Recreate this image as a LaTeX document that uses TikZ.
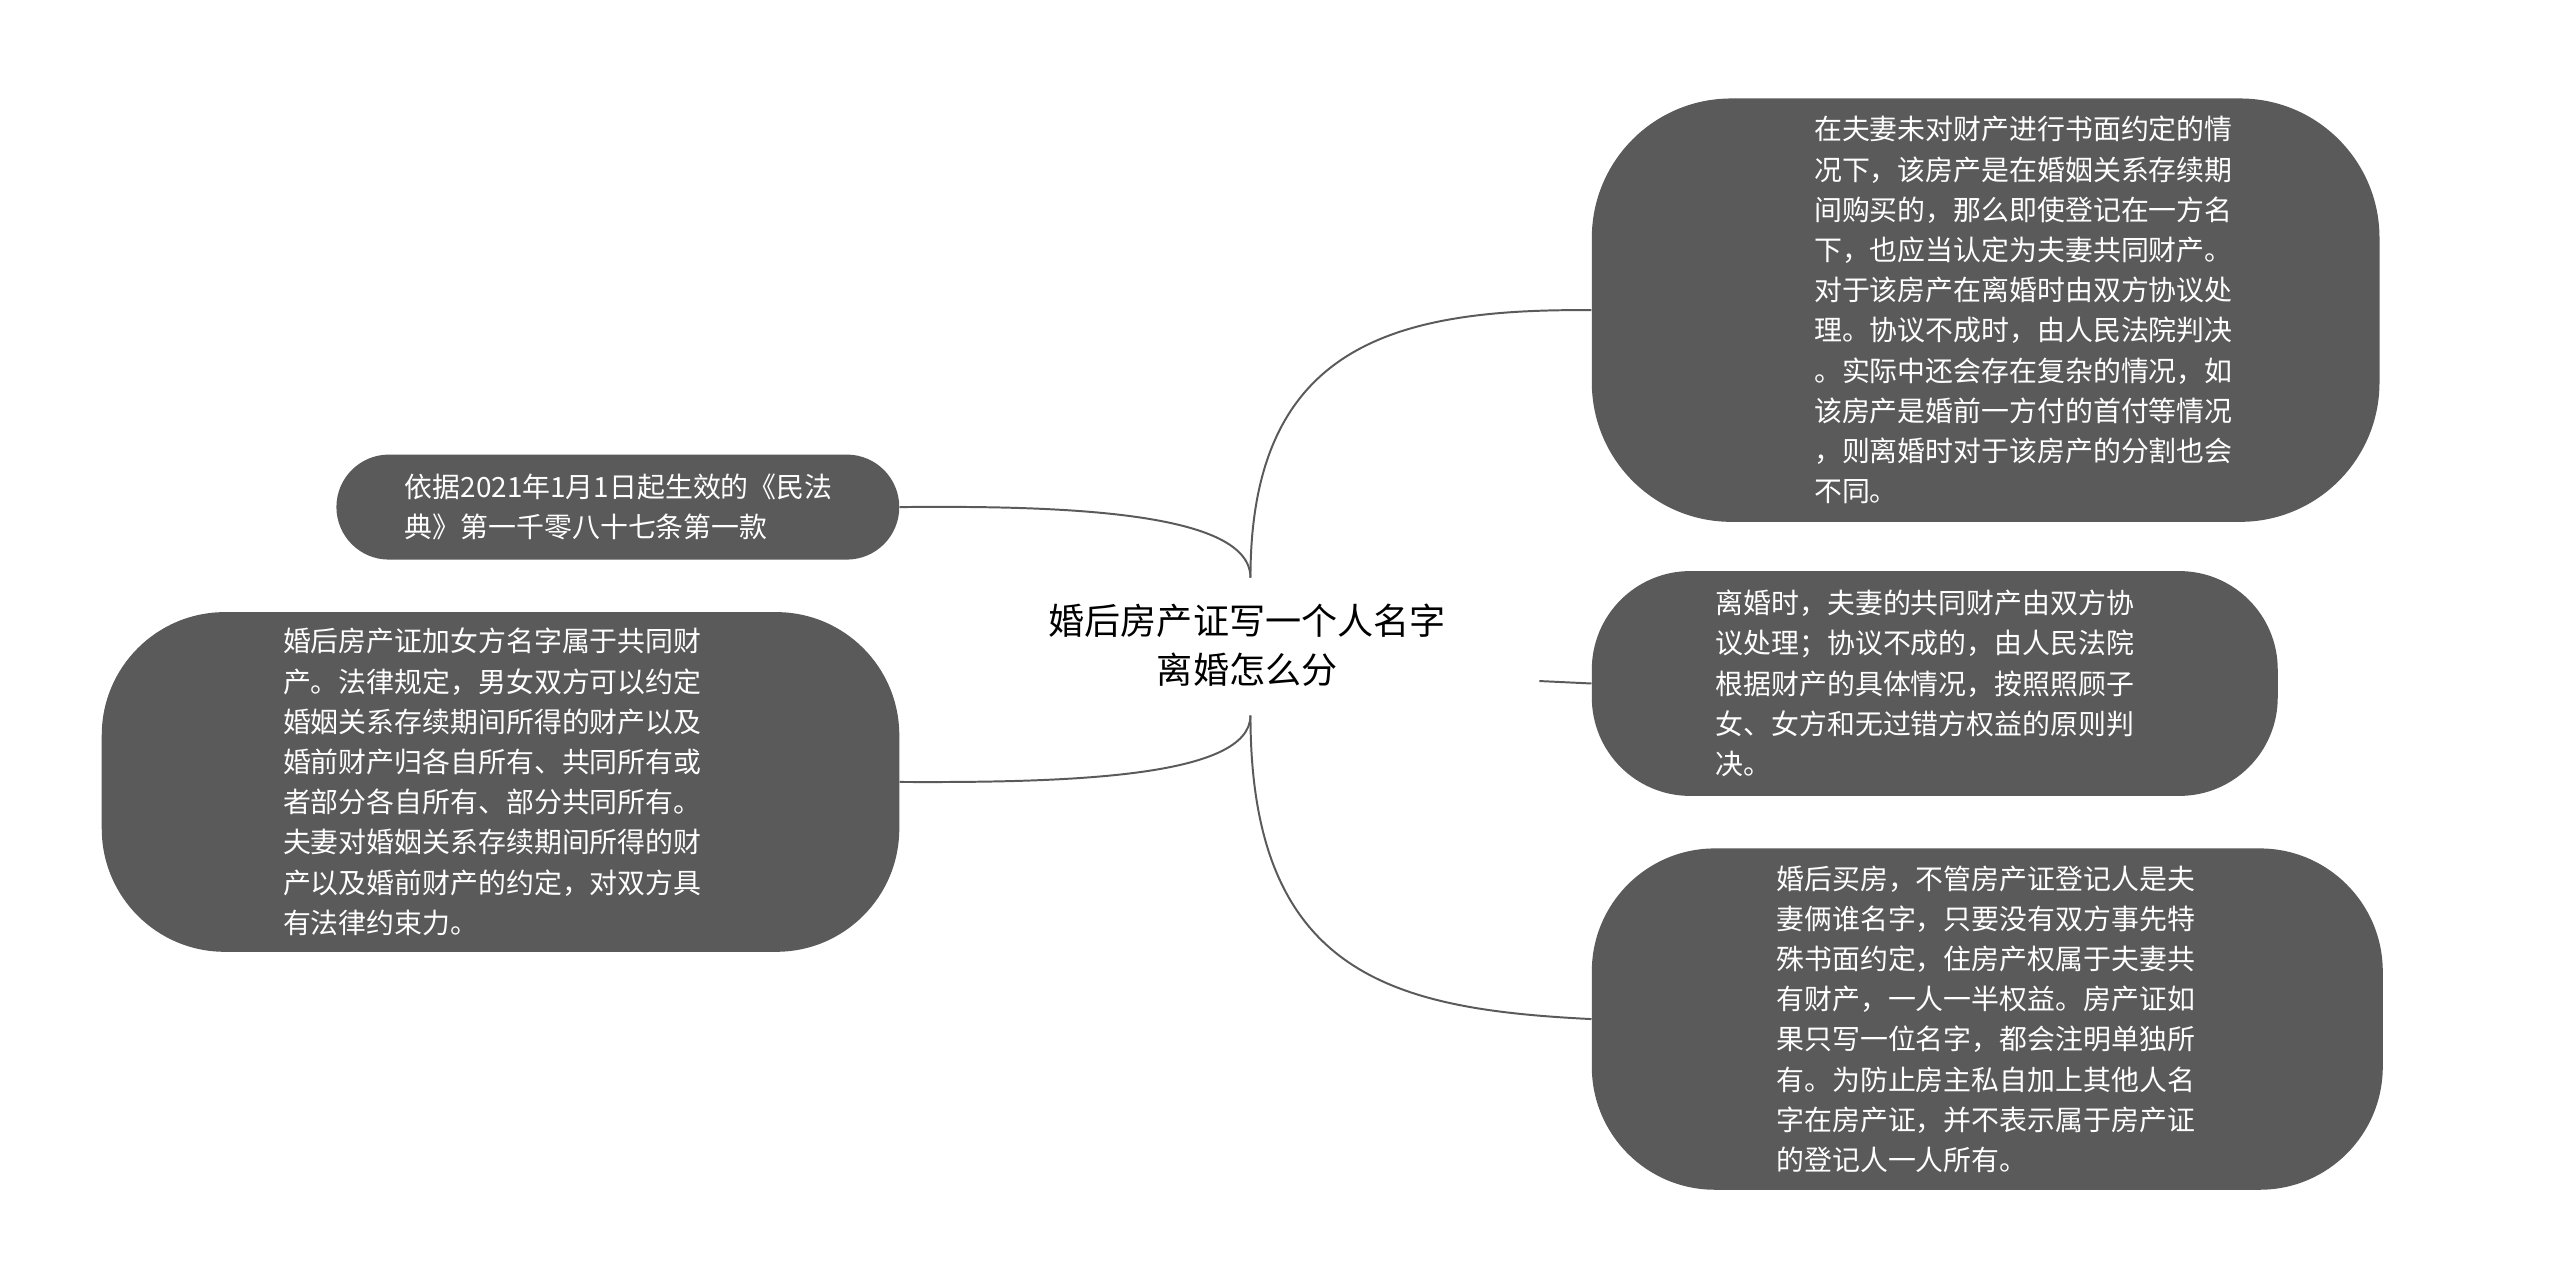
\documentclass[tikz,border=0pt]{standalone}
\usepackage{fontspec}
\setmainfont{Noto Sans CJK SC}
\begin{document}
\begin{tikzpicture}[x=1pt,y=-1pt,
  box/.style={draw=none,fill=boxgray,inner sep=0pt},
  txt/.style={text=white,align=left,font=\fontsize{17}{24.5}\selectfont,inner sep=0pt},
  conn/.style={draw=linegray,line width=1.2pt}]
\definecolor{boxgray}{HTML}{5A5A5A}
\definecolor{linegray}{HTML}{5A5A5A}
\useasboundingbox (0,0) rectangle (1560,782);
\fill[white] (0,0) rectangle (1560,782);
% boxes
\node[box,minimum width=343pt,minimum height=64pt,rounded corners=32pt] (L1) at (376.5,309) {};
\node[box,minimum width=486pt,minimum height=207pt,rounded corners=75pt] (L2) at (305,476.5) {};
\node[box,minimum width=480pt,minimum height=258pt,rounded corners=85pt] (R1) at (1210,189) {};
\node[box,minimum width=418pt,minimum height=137pt,rounded corners=60pt] (R2) at (1179,416.5) {};
\node[box,minimum width=482pt,minimum height=208pt,rounded corners=75pt] (R3) at (1211,621) {};
% texts
\node[txt] (t1) at (377,309) {依据2021年1月1日起生效的《民法\\典》第一千零八十七条第一款};
\node[txt] (t2) at (300,476.5) {婚后房产证加女方名字属于共同财\\产。法律规定，男女双方可以约定\\婚姻关系存续期间所得的财产以及\\婚前财产归各自所有、共同所有或\\者部分各自所有、部分共同所有。\\夫妻对婚姻关系存续期间所得的财\\产以及婚前财产的约定，对双方具\\有法律约束力。};
\node[txt] (t3) at (1233,189) {在夫妻未对财产进行书面约定的情\\况下，该房产是在婚姻关系存续期\\间购买的，那么即使登记在一方名\\下，也应当认定为夫妻共同财产。\\对于该房产在离婚时由双方协议处\\理。协议不成时，由人民法院判决\\。实际中还会存在复杂的情况，如\\该房产是婚前一方付的首付等情况\\，则离婚时对于该房产的分割也会\\不同。};
\node[txt] (t4) at (1173,416.5) {离婚时，夫妻的共同财产由双方协\\议处理；协议不成的，由人民法院\\根据财产的具体情况，按照照顾子\\女、女方和无过错方权益的原则判\\决。};
\node[txt] (t5) at (1210,621) {婚后买房，不管房产证登记人是夫\\妻俩谁名字，只要没有双方事先特\\殊书面约定，住房产权属于夫妻共\\有财产，一人一半权益。房产证如\\果只写一位名字，都会注明单独所\\有。为防止房主私自加上其他人名\\字在房产证，并不表示属于房产证\\的登记人一人所有。};
% center
\node[align=center,font=\fontsize{22}{30}\selectfont,text=black,inner sep=0pt] (c) at (760,393) {婚后房产证写一个人名字\\离婚怎么分};
\coordinate (ca) at (762,352);
\coordinate (cb) at (762,436);
\coordinate (cr) at (938,415);
% connectors
\draw[conn] (ca) .. controls (762,312) and (650,308) .. (L1.east);
\draw[conn] (cb) .. controls (762,474) and (650,477) .. (L2.east);
\draw[conn] (ca) .. controls (762,210) and (850,188) .. (R1.west);
\draw[conn] (cb) .. controls (762,595) and (850,615) .. (R3.west);
\draw[conn] (cr) -- (R2.west);
\end{tikzpicture}
\end{document}
